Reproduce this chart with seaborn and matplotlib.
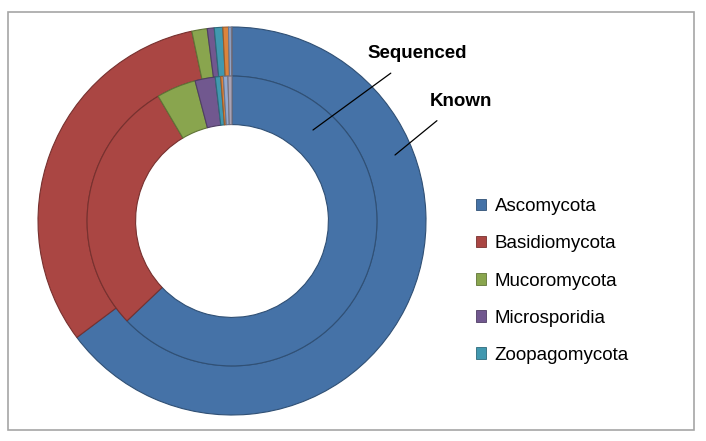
import numpy as np
import matplotlib
matplotlib.use("Agg")
import matplotlib.pyplot as plt
import matplotlib.colors as mcolors
from matplotlib.patches import Patch, Rectangle
import seaborn as sns

# Data (percent of species)
phyla = ['Ascomycota', 'Basidiomycota', 'Mucoromycota', 'Microsporidia',
         'Zoopagomycota', 'Chytridiomycota', 'Blastocladiomycota', 'Cryptomycota']
known = [64.7, 31.9, 1.28, 0.58, 0.71, 0.47, 0.23, 0.05]
sequenced = [62.9, 28.6, 4.4, 2.25, 0.6, 0.3, 0.5, 0.45]
legend_phyla = phyla[:5]

colors = ['#4572A7', '#AA4643', '#89A54E', '#71588F', '#4198AF',
          '#DB843D', '#93A9CF', '#A8A2B4']

sns.set_style("white")
plt.rcParams['font.family'] = ['Liberation Sans', 'DejaVu Sans']
plt.rcParams['text.color'] = 'black'

W, H = 706, 441
fig = plt.figure(figsize=(W / 100, H / 100), dpi=100)

# grey frame round the chart
fig.patches.append(Rectangle((8 / W, 11 / H), 686 / W, 418 / H, transform=fig.transFigure,
                             fill=False, edgecolor='#A6A6A6', linewidth=1.2))

cx, cy, R = 232, 221, 194
ax = fig.add_axes([(cx - R) / W, (H - cy - R) / H, 2 * R / W, 2 * R / H])

def darker(c, f=0.7):
    r, g, b = mcolors.to_rgb(c)
    return (r * f, g * f, b * f)

outer, _ = ax.pie(known, radius=1.0, colors=colors, startangle=90, counterclock=False,
                  wedgeprops=dict(width=0.253, linewidth=0.8))
inner, _ = ax.pie(sequenced, radius=0.747, colors=colors, startangle=90, counterclock=False,
                  wedgeprops=dict(width=0.25, linewidth=0.8))
for w, c in zip(list(outer) + list(inner), colors + colors):
    w.set_edgecolor(darker(c))

ax.set_xlim(-1, 1)
ax.set_ylim(-1, 1)
ax.set_aspect('equal')
ax.axis('off')

def to_data(px, py):
    return ((px - cx) / R, (cy - py) / R)

ax.annotate('Sequenced', xy=to_data(313, 130), xytext=to_data(417, 54),
            ha='center', va='center', fontsize=13.5, fontweight='bold',
            arrowprops=dict(arrowstyle='-', color='black', lw=0.9, shrinkA=9, shrinkB=0),
            annotation_clip=False)
ax.annotate('Known', xy=to_data(395, 155), xytext=to_data(461, 101),
            ha='center', va='center', fontsize=13.5, fontweight='bold',
            arrowprops=dict(arrowstyle='-', color='black', lw=0.9, shrinkA=9, shrinkB=0),
            annotation_clip=False)

handles = [Patch(facecolor=c, edgecolor=darker(c), linewidth=0.6)
           for c in colors[:5]]
fig.legend(handles, legend_phyla, loc='center left',
           bbox_to_anchor=(476 / W, (H - 281) / H), frameon=False,
           fontsize=13.5, handlelength=0.55, handleheight=0.55,
           handletextpad=0.45, labelspacing=1.07, borderpad=0, borderaxespad=0)

fig.savefig('out.png', dpi=100)
